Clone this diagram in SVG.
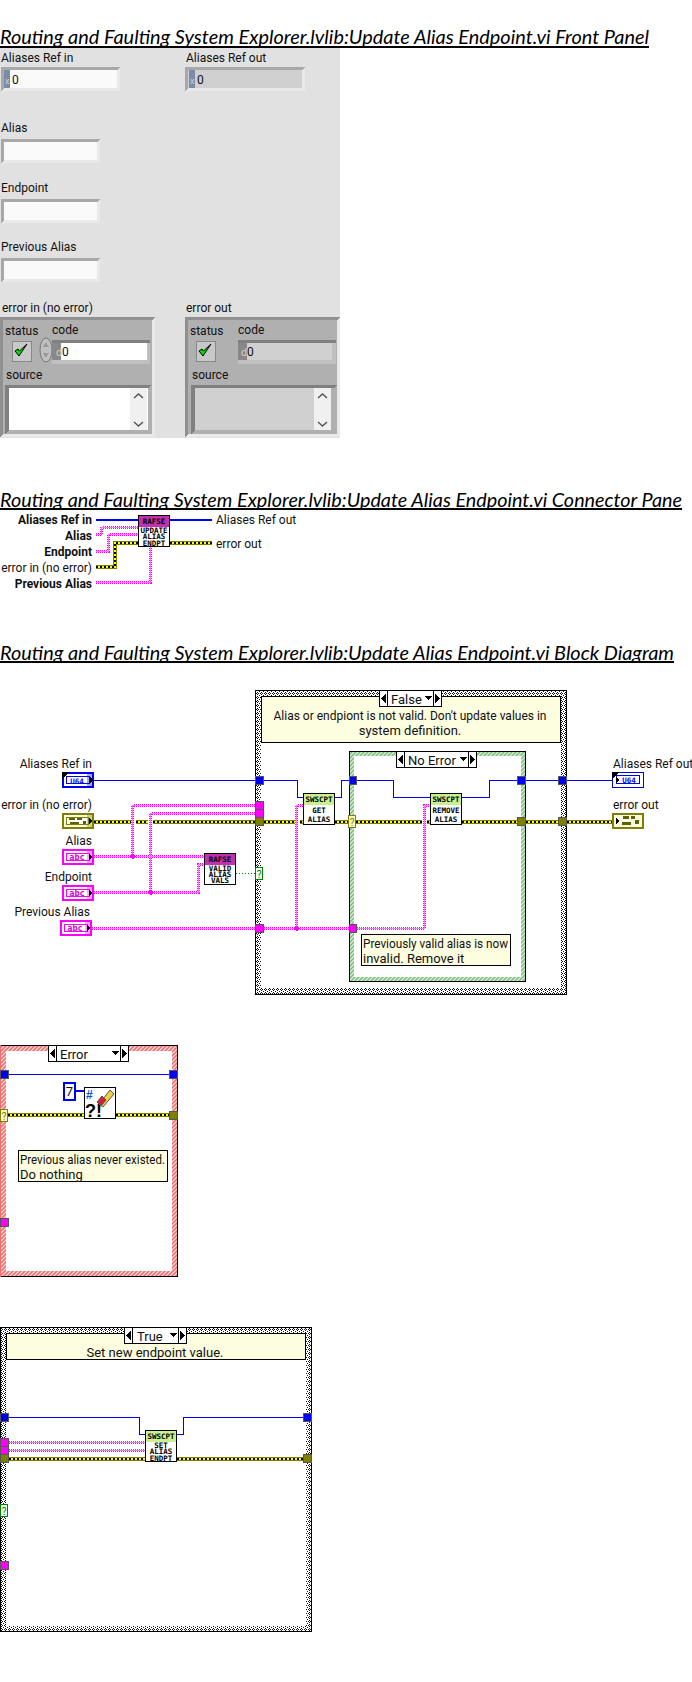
<svg xmlns="http://www.w3.org/2000/svg" xmlns:xlink="http://www.w3.org/1999/xlink" width="692" height="1682" viewBox="0 0 692 1682">
<style>
text{font-family:Roboto,"Noto Sans","Liberation Sans",sans-serif;font-size:12px;fill:#111}
.title{font-family:Lato,"Liberation Sans",sans-serif;font-style:italic;font-size:20px;fill:#000}
.b{font-weight:700}.r{text-anchor:end}.c{text-anchor:middle}
.ic{font-family:"DejaVu Sans Mono","Liberation Mono",monospace;font-size:7.5px;font-weight:700;text-anchor:middle;fill:#000}
.lg{font-size:13px}
rect,path,line{shape-rendering:crispEdges}
.blue{fill:none;stroke:#0000f0;stroke-width:1.2}
.p1{fill:none;stroke:#ff00ff;stroke-width:3;stroke-dasharray:1 1}
.p2{fill:none;stroke:#ff70ff;stroke-width:1}
.e1{fill:none;stroke:#808000;stroke-width:4}
.e2{fill:none;stroke:#ffff00;stroke-width:2}
.e3{fill:none;stroke:#000;stroke-width:2;stroke-dasharray:2 2}
.grn{fill:none;stroke:#008000;stroke-width:1;stroke-dasharray:1 2}
.note{fill:#fdfde0;stroke:#000;stroke-width:1}
.box{fill:#fff;stroke:#000;stroke-width:1}
.t-b{fill:#0000f0;stroke:#555;stroke-width:1}
.t-p{fill:#ff00ff;stroke:#555;stroke-width:1}
.t-e{fill:#808000;stroke:#555;stroke-width:1}
.fr{fill:#e9e9e9}
.fi{fill:#b0b0b0}
</style>
<defs>
<pattern id="chk" width="4" height="4" patternUnits="userSpaceOnUse"><rect width="4" height="4" fill="#fff"/><path d="M1 0h1v1h-1zM0 1h1v1h-1zM2 1h1v1h-1zM1 2h1v1h-1zM3 3h1v1h-1z" fill="#111"/></pattern>
<pattern id="gh" width="4" height="4" patternUnits="userSpaceOnUse"><rect width="4" height="4" fill="#e4f4e4"/><path d="M0 4L4 0M-1 1L1 -1M3 5L5 3" stroke="#80c080" stroke-width="1.6" style="shape-rendering:auto"/></pattern>
<pattern id="rh" width="4" height="4" patternUnits="userSpaceOnUse"><rect width="4" height="4" fill="#fbe4e4"/><path d="M0 4L4 0M-1 1L1 -1M3 5L5 3" stroke="#f07070" stroke-width="1.6" style="shape-rendering:auto"/></pattern>
<g id="str"><rect x="1" y="1" width="30" height="14" fill="#fff" stroke="#ff00ff" stroke-width="2"/><rect x="4.500" y="4.500" width="23" height="7" fill="#fff" stroke="#ff00ff"/><text x="15" y="11" class="ic" style="fill:#d000d0;font-size:8.500px">abc</text><rect x="25" y="2" width="5" height="12" fill="#ff00ff" fill-opacity=".35"/></g>
<g id="clu"><rect x="1" y="1" width="30" height="14" fill="#f8f8e4" stroke="#808000" stroke-width="2"/><rect x="4.500" y="4.500" width="22" height="7" fill="#fff" stroke="#808000"/><rect x="7" y="5" width="6" height="2" fill="#606000"/><rect x="15" y="5" width="5" height="2" fill="#606000"/><rect x="8" y="9" width="9" height="2" fill="#606000"/><rect x="21" y="8" width="3" height="3" fill="#606000"/><rect x="25" y="2" width="5" height="12" fill="#808000" fill-opacity=".35"/></g>
<path id="chk-mark" d="M-6 0L-2 5L6 -7L-1.500 0L-3 -2Z" fill="#00e000" stroke="#000" stroke-width="1" style="shape-rendering:auto"/>
</defs>
<rect width="692" height="1682" fill="#fff"/>

<g id="title-front"><text class="title" x="0" y="44" textLength="649" lengthAdjust="spacingAndGlyphs">Routing and Faulting System Explorer.lvlib:Update Alias Endpoint.vi Front Panel</text><rect x="0" y="46" width="649" height="2"/></g>

<g id="front-panel">
<rect x="0" y="48" width="340" height="390" fill="#e1e1e1"/>
<text x="1" y="62">Aliases Ref in</text>
<rect class="fr" x="1" y="67" width="119" height="24"/><path d="M1 67H120L117 70H4V88L1 91Z" fill="#a8a8a8"/><rect x="4" y="70" width="113" height="18" fill="#fafafa"/><rect x="4" y="70" width="6" height="18" fill="#7b8ba8"/><text x="5" y="84" style="font-size:9px;fill:#ccd">x</text><text x="12" y="84">0</text>
<text x="186" y="62">Aliases Ref out</text>
<rect class="fr" x="185" y="67" width="120" height="24"/><path d="M185 67H305L302 70H188V88L185 91Z" fill="#a8a8a8"/><rect x="188" y="70" width="114" height="18" fill="#d0d0d0"/><rect x="189" y="70" width="6" height="18" fill="#7b8ba8"/><text x="190" y="84" style="font-size:9px;fill:#ccd">x</text><text x="197" y="84">0</text>
<text x="1" y="132">Alias</text>
<rect class="fr" x="1" y="139" width="99" height="24"/><path d="M1 139H100L97 142H4V160L1 163Z" fill="#a8a8a8"/><rect x="4" y="142" width="93" height="18" fill="#fafafa"/>
<text x="1" y="192">Endpoint</text>
<rect class="fr" x="1" y="199" width="99" height="24"/><path d="M1 199H100L97 202H4V220L1 223Z" fill="#a8a8a8"/><rect x="4" y="202" width="93" height="18" fill="#fafafa"/>
<text x="1" y="251">Previous Alias</text>
<rect class="fr" x="1" y="258" width="99" height="24"/><path d="M1 258H100L97 261H4V279L1 282Z" fill="#a8a8a8"/><rect x="4" y="261" width="93" height="18" fill="#fafafa"/>

<text x="2" y="312">error in (no error)</text>
<rect class="fr" x="0" y="317" width="155" height="120"/><path d="M0 317H155L152 320H3V434L0 437Z" fill="#909090"/><rect class="fi" x="3" y="320" width="149" height="114"/>
<text x="5" y="335">status</text><text x="52" y="334">code</text>
<rect x="12" y="341" width="19" height="20" fill="#c8c8c8" stroke="#888"/><use href="#chk-mark" x="21" y="351"/>
<ellipse cx="46" cy="350" rx="6" ry="12" fill="#c0c0c0" stroke="#777"/>
<path d="M43 347L46 342L49 347ZM43 353L46 358L49 353Z" fill="#999"/>
<rect x="52" y="340" width="98" height="24" fill="#c0c0c0"/><rect x="52" y="340" width="98" height="3" fill="#808080"/><rect x="52" y="343" width="9" height="17" fill="#888"/><rect x="61" y="343" width="86" height="17" fill="#fff"/>
<text x="56" y="356" style="font-size:11px;fill:#ccc">d</text><text x="62" y="356">0</text>
<text x="6" y="379">source</text>
<path d="M5 385H151L148 388H9V430L5 434Z" fill="#808080"/><rect x="9" y="388" width="139" height="42" fill="#fff"/><rect x="130" y="388" width="17" height="42" fill="#f0f0f0"/>
<path d="M134 398L138.500 394L143 398M134 422L138.500 426L143 422" fill="none" stroke="#555" stroke-width="1.500" style="shape-rendering:auto"/>

<text x="186" y="312">error out</text>
<rect class="fr" x="185" y="317" width="155" height="120"/><path d="M185 317H340L337 320H188V434L185 437Z" fill="#909090"/><rect class="fi" x="188" y="320" width="149" height="114"/>
<text x="190" y="335">status</text><text x="238" y="334">code</text>
<rect x="196" y="341" width="19" height="20" fill="#c8c8c8" stroke="#888"/><use href="#chk-mark" x="205" y="351"/>
<rect x="238" y="340" width="98" height="24" fill="#c0c0c0"/><rect x="238" y="340" width="98" height="3" fill="#808080"/><rect x="238" y="343" width="9" height="17" fill="#888"/><rect x="247" y="343" width="85" height="17" fill="#d0d0d0"/>
<text x="241" y="356" style="font-size:11px;fill:#ccc">d</text><text x="247" y="356">0</text>
<text x="192" y="379">source</text>
<path d="M191 385H337L334 388H195V430L191 434Z" fill="#808080"/><rect x="195" y="388" width="136" height="42" fill="#d0d0d0"/><rect x="314" y="388" width="17" height="42" fill="#f0f0f0"/>
<path d="M318 398L322.500 394L327 398M318 422L322.500 426L327 422" fill="none" stroke="#555" stroke-width="1.500" style="shape-rendering:auto"/>
</g>

<g id="title-connector"><text class="title" x="0" y="507" textLength="682" lengthAdjust="spacingAndGlyphs">Routing and Faulting System Explorer.lvlib:Update Alias Endpoint.vi Connector Pane</text><rect x="0" y="508" width="682" height="2"/></g>

<g id="pane-connectors">
<path class="blue" d="M96 520H139M170 520H212"/>
<path class="p1" d="M96 534.500H101.500V527H139M96 551H108.500V534.500H139M96 582.500H150.500V547"/>
<path class="p2" d="M96 534.500H101.500V527H139M96 551H108.500V534.500H139M96 582.500H150.500V547"/>
<path class="e1" d="M96 567H115V543H139M170 543H212"/><path class="e2" d="M96 567H115V543H139M170 543H212"/><path class="e3" d="M96 567H115V543H139M170 543H212"/>
</g>
<g id="pane-labels">
<text class="b r" x="92" y="524">Aliases Ref in</text><text class="b r" x="92" y="540">Alias</text><text class="b r" x="92" y="556">Endpoint</text><text class="r" x="92" y="572">error in (no error)</text><text class="b r" x="92" y="588">Previous Alias</text>
<text x="216" y="524">Aliases Ref out</text><text x="216" y="548">error out</text>
</g>
<g id="pane-icon"><rect class="box" x="138.500" y="515.500" width="31" height="31"/><rect x="139" y="516" width="30" height="10.500" fill="#c030b0"/><text class="ic" x="154" y="524">RAFSE</text><text class="ic" x="154" y="532.500">UPDATE</text><text class="ic" x="154" y="539">ALIAS</text><text class="ic" x="154" y="545.500">ENDPT</text></g>

<g id="title-block"><text class="title" x="0" y="660" textLength="674" lengthAdjust="spacingAndGlyphs">Routing and Faulting System Explorer.lvlib:Update Alias Endpoint.vi Block Diagram</text><rect x="0" y="661" width="674" height="2"/></g>

<g id="case-false">
<rect x="255.500" y="690.500" width="311" height="304" fill="url(#chk)" stroke="#000"/><rect x="261" y="696" width="300" height="292" fill="#fff"/>
<rect class="note" x="261.500" y="696.500" width="299" height="45.500"/>
<text class="c lg" x="410" y="720" textLength="273" lengthAdjust="spacingAndGlyphs">Alias or endpiont is not valid. Don't update values in</text><text class="c lg" x="410" y="735">system definition.</text>
<rect class="box" x="379.500" y="690.500" width="62" height="16"/><path d="M387.500 690.500V706.500M433.500 690.500V706.500" stroke="#000"/><path d="M386 694V703L381 698.500ZM435 694V703L440 698.500ZM424 696H432L428 700Z"/><text class="lg" x="391" y="704">False</text>
</g>
<g id="case-no-error">
<rect x="349.500" y="751.500" width="176" height="230" fill="url(#gh)" stroke="#000"/><rect x="354" y="756" width="167" height="221" fill="#fff"/>
<rect class="box" x="396.500" y="751.500" width="80" height="16"/><path d="M404.500 751.500V767.500M468.500 751.500V767.500" stroke="#000"/><path d="M403 755V764L398 759.500ZM470 755V764L475 759.500ZM459 757H467L463 761Z"/><text class="lg" x="408" y="765">No Error</text>
<rect class="note" x="361.500" y="934.500" width="149" height="31"/>
<text class="lg" x="363" y="947.500" textLength="145" lengthAdjust="spacingAndGlyphs">Previously valid alias is now</text><text class="lg" x="363" y="962.500">invalid. Remove it</text>
</g>

<g id="connectors">
<path class="e1" d="M94 821.500H130.500M136 821.500H147.500M153 821.500H255M264 821.500H294.500M300 821.500H303M335 821.500H349M356 821.500H421.500M427 821.500H430M462 821.500H517M526 821.500H559M567 821.500H612"/>
<path class="e2" d="M94 821.500H130.500M136 821.500H147.500M153 821.500H255M264 821.500H294.500M300 821.500H303M335 821.500H349M356 821.500H421.500M427 821.500H430M462 821.500H517M526 821.500H559M567 821.500H612"/>
<path class="e3" d="M94 821.500H130.500M136 821.500H147.500M153 821.500H255M264 821.500H294.500M300 821.500H303M335 821.500H349M356 821.500H421.500M427 821.500H430M462 821.500H517M526 821.500H559M567 821.500H612"/>
<path class="blue" d="M94 780.500H255M264 780.500H297.500V797.500H303M335 797.500H341.500V780.500H349M357 780.500H393.500V797.500H430M462 797.500H489.500V780.500H517M526 780.500H559M567 780.500H612"/>
<path class="p1" d="M94 856.500H204M94 892.500H198.500V864.500H204M132.500 856.500V805.500H255M150.500 892.500V813.500H255M92 928.500H255M264 928.500H349M357 928.500H424.500V805.500H430M296.500 928.500V805.500H303"/>
<path class="p2" d="M94 856.500H204M94 892.500H198.500V864.500H204M132.500 856.500V805.500H255M150.500 892.500V813.500H255M92 928.500H255M264 928.500H349M357 928.500H424.500V805.500H430M296.500 928.500V805.500H303"/>
<path class="grn" d="M236 873.500H255"/>
<path d="M132.500 853.500L135.500 856.500L132.500 859.500L129.500 856.500ZM150.500 889.500L153.500 892.500L150.500 895.500L147.500 892.500ZM296.500 925.500L299.500 928.500L296.500 931.500L293.500 928.500Z" fill="#ff00ff"/>
</g>

<g id="tunnels-main">
<rect class="t-b" x="255.500" y="776.500" width="8" height="8"/><rect class="t-p" x="255.500" y="801.500" width="8" height="8"/><rect class="t-p" x="255.500" y="809.500" width="8" height="8"/><rect class="t-e" x="255.500" y="817.500" width="8" height="8"/><rect class="t-p" x="255.500" y="924.500" width="8" height="8"/>
<rect x="255.500" y="867.500" width="7" height="12" fill="#f0fff0" stroke="#008000"/><text class="c" x="259" y="877.500" style="font-size:10px;fill:#008000">?</text>
<rect class="t-b" x="349.500" y="776.500" width="7" height="8"/><rect x="348.500" y="815.500" width="7" height="12" fill="#f8f8c0" stroke="#808000"/><text class="c" x="352" y="825.500" style="font-size:10px;fill:#808000">?</text><rect class="t-p" x="349.500" y="924.500" width="7" height="8"/>
<rect class="t-b" x="517.500" y="776.500" width="8" height="8"/><rect class="t-e" x="517.500" y="817.500" width="8" height="8"/>
<rect class="t-b" x="558.500" y="776.500" width="8" height="8"/><rect class="t-e" x="558.500" y="817.500" width="8" height="8"/>
</g>

<g id="term-aliases-in"><text class="r" x="92" y="768">Aliases Ref in</text><rect x="63" y="773" width="30" height="14" fill="#fff" stroke="#0000f0" stroke-width="2"/><rect x="66.500" y="776.500" width="23" height="7" fill="#fff" stroke="#0000f0"/><text class="ic" x="77" y="783.500" style="fill:#0000f0">U64</text><rect x="87" y="774" width="5" height="12" fill="#0000f0" fill-opacity=".35"/><path d="M62 772H69L62 779Z"/><path d="M90 777L93 780L90 783Z"/></g>
<g id="term-error-in"><text class="r" x="92" y="809">error in (no error)</text><use href="#clu" x="62" y="813"/><path d="M89 818L92 821L89 824Z"/></g>
<g id="term-alias"><text class="r" x="92" y="845">Alias</text><use href="#str" x="62" y="849"/><path d="M89 854L92 857L89 860Z"/></g>
<g id="term-endpoint"><text class="r" x="92" y="881">Endpoint</text><use href="#str" x="62" y="885"/><path d="M89 890L92 893L89 896Z"/></g>
<g id="term-previous"><text class="r" x="90" y="916">Previous Alias</text><use href="#str" x="60" y="920"/><path d="M87 925L90 928L87 931Z"/></g>
<g id="term-aliases-out"><text x="613" y="768">Aliases Ref out</text><rect x="612.500" y="772.500" width="31" height="15" fill="#fff" stroke="#0000f0"/><rect x="616.500" y="775.500" width="23" height="8" fill="#fff" stroke="#0000f0"/><text class="ic" x="629" y="783" style="fill:#0000f0">U64</text><path d="M612 772H619L612 779Z"/><path d="M616 777L619 780L616 783Z"/></g>
<g id="term-error-out"><text x="613" y="809">error out</text><rect x="613" y="814" width="30" height="14" fill="#f8f8e4" stroke="#808000" stroke-width="2"/><rect x="623" y="816" width="6" height="3" fill="#606000"/><rect x="631" y="816" width="4" height="3" fill="#606000"/><rect x="622" y="822" width="9" height="3" fill="#606000"/><rect x="635" y="820" width="4" height="4" fill="#606000"/><path d="M616 818L619 821L616 824Z"/></g>

<g id="node-valid"><rect class="box" x="204.500" y="853.500" width="31" height="31"/><rect x="205" y="854" width="30" height="11" fill="#c030b0"/><text class="ic" x="220" y="862">RAFSE</text><text class="ic" x="220" y="871">VALID</text><text class="ic" x="220" y="877">ALIAS</text><text class="ic" x="220" y="883">VALS</text></g>
<g id="node-get-alias"><rect class="box" x="303.500" y="793.500" width="31" height="31"/><rect x="304" y="794" width="30" height="11" fill="#c8f090"/><text class="ic" x="319" y="802">SWSCPT</text><text class="ic" x="319" y="813">GET</text><text class="ic" x="319" y="821.500">ALIAS</text></g>
<g id="node-remove-alias"><rect class="box" x="430.500" y="793.500" width="31" height="31"/><rect x="431" y="794" width="30" height="11" fill="#c8f090"/><text class="ic" x="446" y="802">SWSCPT</text><text class="ic" x="446" y="813">REMOVE</text><text class="ic" x="446" y="821.500">ALIAS</text></g>

<g id="case-error">
<rect x="0.500" y="1045.500" width="177" height="231" fill="url(#rh)" stroke="#000"/><rect x="6" y="1051" width="166" height="220" fill="#fff"/>
<rect x="0" y="1045" width="1" height="232" fill="#f07070"/>
<rect class="box" x="48.500" y="1045.500" width="80" height="16"/><path d="M56.500 1045.500V1061.500M120.500 1045.500V1061.500" stroke="#000"/><path d="M55 1049V1058L50 1053.500ZM122 1049V1058L127 1053.500ZM111 1051H119L115 1055Z"/><text class="lg" x="60" y="1059">Error</text>
<path class="blue" d="M8 1074.500H169M76 1091H84"/>
<path class="e1" d="M8 1115H84M116 1115H169"/><path class="e2" d="M8 1115H84M116 1115H169"/><path class="e3" d="M8 1115H84M116 1115H169"/>
<rect class="t-b" x="0.500" y="1070.500" width="8" height="8"/><rect class="t-b" x="169.500" y="1070.500" width="8" height="8"/><rect class="t-e" x="169.500" y="1111.500" width="8" height="8"/><rect class="t-p" x="0.500" y="1218.500" width="8" height="8"/>
<rect x="0.500" y="1109.500" width="7" height="12" fill="#f8f8c0" stroke="#808000"/><text class="c" x="4" y="1119.500" style="font-size:10px;fill:#808000">?</text>
<rect x="64" y="1083" width="11" height="17" fill="#fff" stroke="#0000f0" stroke-width="2"/><text class="c" x="69.500" y="1096" style="font-size:13px">7</text>
<rect class="box" x="84.500" y="1087.500" width="31" height="31"/><text x="86" y="1099" style="font-size:12px;font-weight:700;fill:#0050d0;font-family:'Liberation Sans',sans-serif">#</text><text x="85" y="1117" style="font-size:18px;font-weight:900;fill:#000;font-family:'Liberation Sans',sans-serif">?!</text>
<path d="M99 1104L110 1090L114 1094L103 1107Z" fill="#f0d040" stroke="#555" style="shape-rendering:auto"/><path d="M97 1102L102 1096L106 1100L101 1106Z" fill="#d02040" stroke="#555" style="shape-rendering:auto"/>
<rect class="note" x="18.500" y="1150.500" width="149" height="31"/><text class="lg" x="20" y="1163.500" textLength="145" lengthAdjust="spacingAndGlyphs">Previous alias never existed.</text><text class="lg" x="20" y="1178.500">Do nothing</text>
</g>

<g id="case-true">
<rect x="0.500" y="1327.500" width="311" height="304" fill="url(#chk)" stroke="#000"/><rect x="6" y="1333" width="300" height="293" fill="#fff"/>
<rect class="note" x="6.500" y="1333.500" width="299" height="26"/><text class="c lg" x="155" y="1356.500">Set new endpoint value.</text>
<rect class="box" x="124.500" y="1327.500" width="62" height="16"/><path d="M132.500 1327.500V1343.500M178.500 1327.500V1343.500" stroke="#000"/><path d="M131 1331V1340L126 1335.500ZM180 1331V1340L185 1335.500ZM169 1333H177L173 1337Z"/><text class="lg" x="137" y="1341">True</text>
<path class="blue" d="M9 1417.500H139.500V1434.500H145M177 1434.500H183.500V1417.500H303"/>
<path class="p1" d="M9 1442.500H145M9 1450.500H145"/><path class="p2" d="M9 1442.500H145M9 1450.500H145"/>
<path class="e1" d="M9 1458.500H145M177 1458.500H303"/><path class="e2" d="M9 1458.500H145M177 1458.500H303"/><path class="e3" d="M9 1458.500H145M177 1458.500H303"/>
<rect class="t-b" x="0.500" y="1413.500" width="8" height="8"/><rect class="t-b" x="303.500" y="1413.500" width="8" height="8"/><rect class="t-p" x="0.500" y="1438.500" width="8" height="8"/><rect class="t-p" x="0.500" y="1446.500" width="8" height="8"/><rect class="t-e" x="0.500" y="1454.500" width="8" height="8"/><rect class="t-e" x="303.500" y="1454.500" width="8" height="8"/><rect class="t-p" x="0.500" y="1561.500" width="8" height="8"/>
<rect x="0.500" y="1504.500" width="7" height="12" fill="#f0fff0" stroke="#008000"/><text class="c" x="4" y="1514.500" style="font-size:10px;fill:#008000">?</text>
<g id="node-set-alias"><rect class="box" x="145.500" y="1430.500" width="31" height="31"/><rect x="146" y="1431" width="30" height="11" fill="#c8f090"/><text class="ic" x="161" y="1439">SWSCPT</text><text class="ic" x="161" y="1447.500">SET</text><text class="ic" x="161" y="1454">ALIAS</text><text class="ic" x="161" y="1460.500">ENDPT</text></g>
</g>
</svg>
